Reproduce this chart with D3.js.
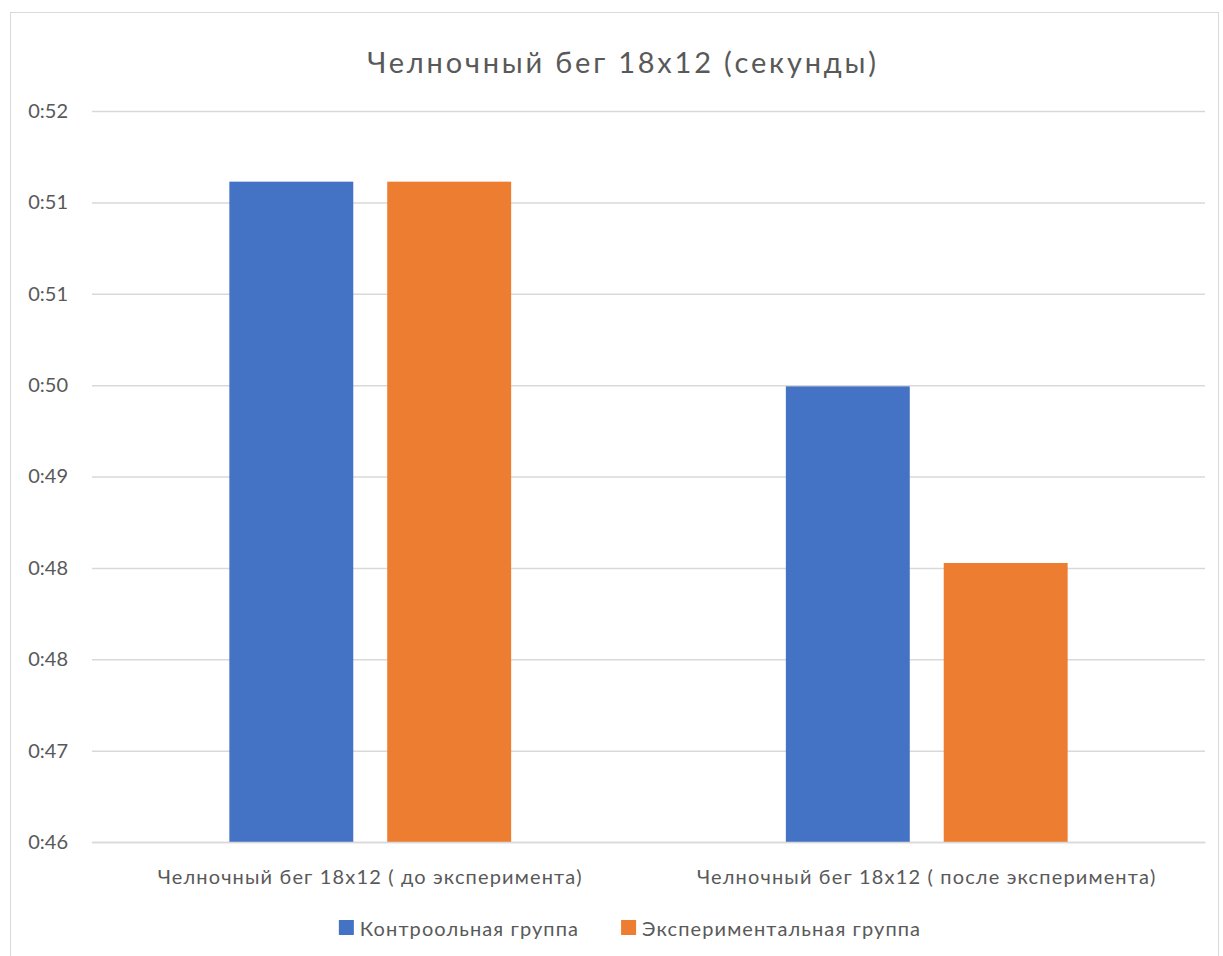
<!DOCTYPE html>
<html>
<head>
<meta charset="utf-8">
<script src="https://cdn.jsdelivr.net/npm/d3@7"></script>
<style>
  body { margin: 0; background: #fff; }
  svg text { font-family: Lato, "Open Sans", sans-serif; fill: #595959; }
</style>
</head>
<body>
<div id="viz"></div>
<script>
// chart values (seconds)
const categories = ['Челночный бег 18x12 ( до эксперимента)', 'Челночный бег 18x12 ( после эксперимента)'];
const seriesNames = ['Контроольная группа', 'Экспериментальная группа'];
const seriesColors = ['#4472C4', '#ED7D31'];
const controlValues = [51.42, 49.74];
const experimentValues = [51.42, 48.29];
const tickValues = [46, 46.75, 47.5, 48.25, 49, 49.75, 50.5, 51.25, 52];

function fmtTime(v) {
    return '0:' + Math.round(v);
}

function buildChart(containerId) {
    const width = 1223;
    const height = 956;

    const margin = {
        top: 111,
        bottom: 114,
        right: 18,
        left: 92
    };

    const innerWidth = width - margin.left - margin.right;
    const innerHeight = height - margin.top - margin.bottom;

    const svg = d3.select(containerId)
                    .append('svg')
                    .attr('width', width)
                    .attr('height', height);

    // chart frame
    svg.append('rect')
       .attr('x', 10.5)
       .attr('y', 12.5)
       .attr('width', 1208)
       .attr('height', 960)
       .attr('fill', 'none')
       .attr('stroke', '#d9d9d9');

    const g = svg.append('g')
                .attr('transform', 'translate(' + margin.left + ',' + margin.top + ')');

    const data = categories.map((c, i) => ({
        category: c,
        values: [controlValues[i], experimentValues[i]]
    }));

    const x0 = d3.scaleBand()
                 .domain(categories)
                 .range([0, innerWidth])
                 .padding(0);

    const x1 = d3.scaleBand()
                 .domain(seriesNames)
                 .range([0, x0.bandwidth()])
                 .paddingInner(0.215)
                 .paddingOuter(0.87);

    const y = d3.scaleLinear()
                .domain([46, 52])
                .range([innerHeight, 0]);

    // gridlines + y labels
    const yAxis = d3.axisLeft(y)
                    .tickValues(tickValues)
                    .tickSize(-innerWidth)
                    .tickPadding(24)
                    .tickFormat(fmtTime);

    const ya = g.append('g')
     .attr('class', 'y-axis')
     .call(yAxis);
    ya.select('.domain').remove();
    ya.selectAll('.tick line')
      .attr('stroke', '#d9d9d9')
      .attr('stroke-width', 1.5);
    ya.selectAll('.tick text')
      .attr('font-size', 20)
      .attr('fill', '#595959');

    // bars
    const groups = g.selectAll('.grp')
     .data(data)
     .enter()
     .append('g')
     .attr('class', 'grp')
     .attr('transform', d => 'translate(' + x0(d.category) + ',0)');

    groups.selectAll('rect')
     .data(d => d.values.map((v, i) => ({ name: seriesNames[i], value: v, color: seriesColors[i] })))
     .enter()
     .append('rect')
     .attr('x', d => x1(d.name))
     .attr('y', d => y(d.value))
     .attr('width', x1.bandwidth())
     .attr('height', d => innerHeight - y(d.value))
     .attr('fill', d => d.color);

    // x axis
    const xAxis = d3.axisBottom(x0).tickSize(0).tickPadding(28);
    const xa = g.append('g')
     .attr('class', 'x-axis')
     .attr('transform', 'translate(0,' + innerHeight + ')')
     .call(xAxis);
    xa.select('.domain').attr('stroke', '#d9d9d9').attr('stroke-width', 1.5);
    xa.selectAll('.tick text')
      .attr('font-size', 20)
      .attr('letter-spacing', 1.15)
      .attr('fill', '#595959');

    // title
    svg.append('text')
       .attr('x', 623)
       .attr('y', 73)
       .attr('text-anchor', 'middle')
       .attr('font-size', 29)
       .attr('letter-spacing', 2.8)
       .text('Челночный бег 18x12 (секунды)');

    // legend
    const legend = svg.append('g');
    const items = legend.selectAll('.item')
        .data(seriesNames)
        .enter()
        .append('g')
        .attr('class', 'item');
    items.append('rect')
        .attr('width', 15)
        .attr('height', 15)
        .attr('y', -16)
        .attr('fill', (d, i) => seriesColors[i]);
    items.append('text')
        .attr('x', 21)
        .attr('y', 0)
        .attr('font-size', 20)
        .attr('letter-spacing', 1.1)
        .text(d => d);

    let offset = 0;
    const itemX = [];
    items.each(function() {
        itemX.push(offset);
        offset += this.getBBox().width + 42;
    });
    offset -= 42;
    items.attr('transform', (d, i) => 'translate(' + itemX[i] + ',0)');
    legend.attr('transform', 'translate(' + (630 - offset / 2) + ',936)');
}

buildChart('#viz');
</script>
</body>
</html>
